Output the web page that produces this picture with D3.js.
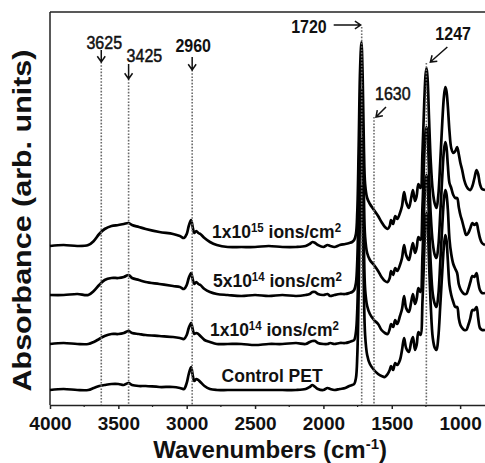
<!DOCTYPE html>
<html>
<head>
<meta charset="utf-8">
<script src="https://cdn.jsdelivr.net/npm/d3@7"></script>
<style>
  body { margin: 0; background: #fff; }
  svg { display: block; font-family: "Liberation Sans", Arial, sans-serif; }
</style>
</head>
<body>
<div id="chart"></div>
<script>
// shared wavenumber grid (cm-1)
const wavenumbers = [
  4000, 3900, 3800, 3720, 3680, 3640, 3600, 3550, 3500, 3460, 3425, 3400, 3350, 3300,
  3200, 3100, 3050, 3020, 3000, 2985, 2968, 2955, 2945, 2930, 2915, 2900, 2870, 2830, 2780,
  2700, 2600, 2500, 2400, 2300, 2200, 2130, 2100, 2080, 2060, 2040, 2000, 1970, 1950, 1920, 1880, 1840, 1810, 1790, 1775,
  1762, 1752, 1742, 1732, 1722, 1713, 1704, 1695, 1680, 1660, 1630, 1600, 1575, 1550, 1530, 1515,
  1505, 1490, 1475, 1460, 1440, 1425, 1410, 1395, 1375, 1358, 1345, 1330, 1318, 1305, 1290, 1275, 1262, 1252,
  1245, 1237, 1228, 1215, 1200, 1185, 1173, 1160, 1145, 1130, 1118, 1108, 1100, 1090, 1078,
  1065, 1050, 1035, 1022, 1010, 998, 985, 970, 955, 940, 925, 910, 895, 880, 868, 855, 840, 818
];

// absorbance (arb. units), each relative to its own baseline
const dose1e15 = [
  0, .01, 0, .01, .05, .12, .17, .2, .21, .22, .23, .21, .19, .17,
  .14, .12, .1, .08, .12, .2, .26, .18, .13, .15, .13, .12, .08, .04, .01,
  -.01, -.01, -.01, 0, -.01, -.01, 0, .02, .04, .03, .01, -.01, .01, 0, -.01, .01, .02, .03, .04, .06,
  .12, .35, 1.0, 1.75, 2.04, 1.7, 1.0, .62, .48, .42, .36, .3, .24, .19, .17, .2,
  .26, .22, .3, .27, .33, .4, .54, .44, .38, .48, .56, .45, .5, .62, .58, .95, 1.45, 1.72,
  1.78, 1.65, 1.3, .85, .55, .42, .38, .5, .85, 1.25, 1.5, 1.59, 1.55, 1.4, 1.15,
  .98, .93, .95, .99, .92, .83, .76, .66, .6, .57, .56, .6, .68, .76, .72, .62, .57, .56
];
const dose5e14 = [
  0, 0, .01, 0, .04, .1, .15, .17, .17, .18, .2, .17, .15, .13,
  .11, .09, .08, .06, .1, .17, .22, .15, .11, .13, .11, .1, .06, .03, .01,
  0, -.01, 0, -.01, 0, -.01, 0, .01, .03, .03, .01, 0, .01, -.01, 0, .01, .01, .02, .03, .05,
  .12, .35, 1.0, 1.75, 2.05, 1.7, 1.0, .58, .42, .35, .3, .24, .18, .14, .13, .17,
  .24, .2, .27, .24, .3, .37, .5, .4, .35, .45, .52, .42, .47, .58, .55, .9, 1.4, 1.64,
  1.68, 1.58, 1.25, .8, .52, .4, .37, .48, .82, 1.2, 1.45, 1.53, 1.48, 1.3, 1.12,
  1.07, 1.0, .97, .97, .88, .8, .74, .66, .6, .62, .67, .72, .7, .72, .65, .57, .52, .5
];
const dose1e14 = [
  0, .01, 0, 0, .02, .05, .08, .1, .1, .11, .13, .11, .1, .09,
  .08, .07, .06, .05, .09, .16, .21, .14, .1, .11, .1, .08, .04, .02, 0,
  0, 0, -.01, 0, 0, .01, 0, .02, .03, .03, .01, 0, 0, .01, 0, .01, .01, .02, .03, .04,
  .12, .35, 1.0, 1.75, 2.05, 1.7, 1.0, .55, .38, .3, .24, .2, .14, .11, .1, .15,
  .2, .17, .24, .2, .28, .35, .48, .36, .32, .42, .5, .4, .45, .56, .52, .9, 1.4, 1.65,
  1.69, 1.58, 1.25, .8, .5, .4, .37, .48, .82, 1.2, 1.45, 1.54, 1.5, 1.35, 1.05,
  .9, .8, .75, .71, .6, .55, .52, .5, .5, .55, .62, .68, .67, .71, .62, .54, .51, .51
];
const controlPET = [
  0, .01, 0, 0, .02, .04, .05, .06, .06, .05, .07, .05, .04, .04,
  .03, .03, .02, .01, .07, .16, .23, .14, .09, .11, .1, .08, .04, .01, 0,
  0, 0, 0, 0, 0, 0, .01, .03, .05, .03, .01, 0, .02, .01, 0, .01, .02, .04, .05, .06,
  .12, .35, 1.0, 1.75, 2.05, 1.7, 1.0, .55, .35, .26, .2, .16, .14, .13, .16, .2,
  .24, .2, .27, .25, .3, .4, .52, .42, .38, .48, .53, .4, .45, .58, .55, .9, 1.4, 1.72,
  1.77, 1.65, 1.3, .85, .52, .42, .4, .52, .85, 1.2, 1.45, 1.55, 1.5, 1.3, 1.05,
  .95, .88, .83, .83, .72, .65, .62, .6, .6, .65, .72, .8, .8, .83, .72, .62, .6, .6
];

const seriesValues = [dose1e15, dose5e14, dose1e14, controlPET];
const seriesOffsets = [1.59, 1.10, 0.61, 0.15];   // vertical stacking
const seriesMantissa = ["1x10", "5x10", "1x10", null];
const seriesExponent = ["15", "14", "14", null];
const seriesNames = ["ions/cm", "ions/cm", "ions/cm", "Control PET"];

const markerLabels = [3625, 3425, 2960, 1720, 1630, 1247];
const xTicks = [4000, 3500, 3000, 2500, 2000, 1500, 1000];
const xMinorTicks = [3750, 3250, 2750, 2250, 1750, 1250];

const width = 485;
const height = 463;
const margin = { left: 50, right: 0, top: 12, bottom: 58 };
const bottomY = height - margin.bottom;

const x = d3.scaleLinear()
    .domain([4000, 818])
    .range([margin.left, width - margin.right]);

const y = d3.scaleLinear()
    .domain([0, 3.93])
    .range([bottomY, margin.top]);

const line = d3.line()
    .curve(d3.curveCatmullRom.alpha(0.5))
    .x(d => x(d[0]))
    .y(d => y(d[1]));

const svg = d3.select("#chart").append("svg")
    .attr("width", width)
    .attr("height", height);

// frame: left axis line + top line
svg.append("line")
    .attr("x1", margin.left).attr("x2", margin.left)
    .attr("y1", margin.top).attr("y2", bottomY)
    .attr("stroke", "#222").attr("stroke-width", 1.5);
svg.append("line")
    .attr("x1", margin.left).attr("x2", width)
    .attr("y1", margin.top).attr("y2", margin.top)
    .attr("stroke", "#222").attr("stroke-width", 1.5);

// x axis
const xAxis = d3.axisBottom(x)
    .tickValues(xTicks)
    .tickSizeInner(4)
    .tickSizeOuter(0)
    .tickPadding(8)
    .tickFormat(d3.format("d"));

const gx = svg.append("g")
    .attr("transform", `translate(0,${bottomY})`)
    .call(xAxis);
gx.select(".domain").attr("stroke", "#222").attr("stroke-width", 1.5);
gx.selectAll(".tick line").attr("stroke", "#222").attr("stroke-width", 1.5);
gx.selectAll(".tick text")
    .attr("font-size", 19)
    .attr("font-weight", "bold")
    .attr("font-family", "Liberation Sans, Arial, sans-serif")
    .attr("fill", "#111");

gx.selectAll(".minor")
    .data(xMinorTicks)
    .join("line")
    .attr("class", "minor")
    .attr("x1", d => x(d)).attr("x2", d => x(d))
    .attr("y1", 0).attr("y2", 2)
    .attr("stroke", "#222").attr("stroke-width", 1.2);

// spectra
seriesValues.forEach((vals, i) => {
    const pts = wavenumbers.map((w, j) => [w, vals[j] + seriesOffsets[i]]);
    svg.append("path")
        .attr("d", line(pts))
        .attr("fill", "none")
        .attr("stroke", "#000")
        .attr("stroke-width", 2.7)
        .attr("stroke-linejoin", "round");
});

// series labels
const labelWn = [2815, 2808, 2830, 2745];
seriesValues.forEach((vals, i) => {
    const t = svg.append("text")
        .attr("transform", `translate(${x(labelWn[i])},${y(seriesOffsets[i]) - 8}) scale(1,1.08)`)
        .attr("font-size", 17.5)
        .attr("font-weight", "bold")
        .attr("fill", "#111");
    if (seriesMantissa[i]) {
        t.append("tspan").text(seriesMantissa[i]);
        t.append("tspan").attr("font-size", 11.5).attr("dy", -6).text(seriesExponent[i]);
        t.append("tspan").attr("dy", 6).text(" " + seriesNames[i]);
        t.append("tspan").attr("font-size", 11.5).attr("dy", -6).text("2");
    } else {
        t.text(seriesNames[i]);
    }
});

// dotted marker lines with arrows
const markerTop = [3.43, 3.26, 3.35, 3.78, 2.88, 3.42];
svg.selectAll(".marker")
    .data(markerLabels)
    .join("line")
    .attr("class", "marker")
    .attr("x1", d => x(d)).attr("x2", d => x(d))
    .attr("y1", (d, i) => y(markerTop[i]))
    .attr("y2", bottomY)
    .attr("stroke", "#6a6a6a")
    .attr("stroke-width", 1.6)
    .attr("stroke-dasharray", "1.6,1.6");

function arrow(x1, y1, x2, y2) {
    const a = Math.atan2(y2 - y1, x2 - x1);
    const len = 7, spread = 0.6;
    const p = d3.path();
    p.moveTo(x1, y1); p.lineTo(x2, y2);
    p.moveTo(x2 - len * Math.cos(a - spread), y2 - len * Math.sin(a - spread));
    p.lineTo(x2, y2);
    p.lineTo(x2 - len * Math.cos(a + spread), y2 - len * Math.sin(a + spread));
    svg.append("path").attr("d", p.toString())
        .attr("fill", "none").attr("stroke", "#111").attr("stroke-width", 1.5);
}

function note(txt, tx, ty, anchor, bold) {
    svg.append("text")
        .attr("transform", `translate(${tx},${ty}) scale(1,1.1)`)
        .attr("text-anchor", anchor)
        .attr("font-size", 16)
        .attr("font-weight", bold ? "bold" : "normal")
        .attr("fill", "#111")
        .attr("stroke", bold ? "none" : "#111")
        .attr("stroke-width", 0.45)
        .text(txt);
}

markerLabels.forEach((m, i) => {
    const lx = x(m), ly = y(markerTop[i]);
    if (m === 3625) { arrow(lx, ly - 12, lx, ly); note(m, lx + 3, ly - 13, "middle"); }
    if (m === 3425) { arrow(lx, ly - 15, lx, ly); note(m, lx - 2, ly - 17, "start"); }
    if (m === 2960) { arrow(lx, ly - 13, lx, ly); note(m, lx + 1, ly - 18, "middle", true); }
    if (m === 1720) { arrow(lx - 28, ly - 2, lx - 1, ly - 2); note(m, lx - 35, ly + 6, "end", true); }
    if (m === 1630) { arrow(lx + 12, ly - 10, lx + 2, ly); note(m, lx + 1, ly - 17, "start"); }
    if (m === 1247) { arrow(lx + 21, ly - 16, lx + 4, ly - 1); note(m, lx + 9, ly - 23, "start", true); }
});

// axis titles
const xt = svg.append("text")
    .attr("transform", `translate(${(x(4000) + x(1000)) / 2 + 15},${height - 5})`)
    .attr("text-anchor", "middle")
    .attr("font-size", 24)
    .attr("font-weight", "bold")
    .attr("fill", "#111");
xt.append("tspan").text("Wavenumbers (cm");
xt.append("tspan").attr("font-size", 15).attr("dy", -9).text("-1");
xt.append("tspan").attr("dy", 9).text(")");

svg.append("text")
    .attr("transform", `translate(31,${(margin.top + bottomY) / 2 + 12}) rotate(-90) scale(1.15,1)`)
    .attr("text-anchor", "middle")
    .attr("font-size", 26.5)
    .attr("font-weight", "bold")
    .attr("fill", "#111")
    .text("Absorbance (arb. units)");
</script>
</body>
</html>
